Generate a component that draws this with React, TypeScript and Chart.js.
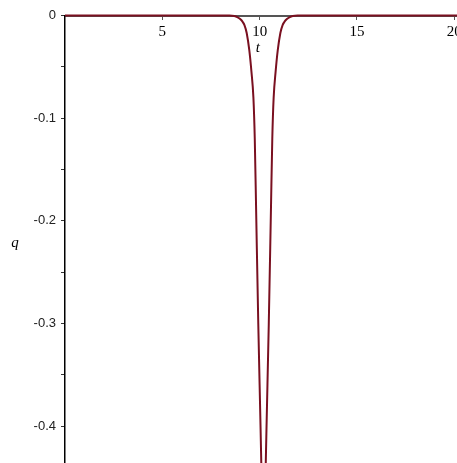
import React, { useEffect, useRef } from 'react';
import { Chart, registerables } from 'chart.js';

Chart.register(...registerables);

// Curve samples (t, q)
const tValues = [
  0, 8.45, 8.7, 8.85, 9.0, 9.12, 9.22, 9.335, 9.47, 9.58, 9.68, 9.75, 9.82, 9.93, 10.05, 10.1, 10.2,
  10.3, 10.35, 10.47, 10.58, 10.65, 10.72, 10.82, 10.93, 11.065, 11.18, 11.28, 11.4, 11.55, 11.7, 11.95, 20.14,
];
const qValues = [
  0, 0, -0.0005, -0.0015, -0.0035, -0.006, -0.0093, -0.017, -0.034, -0.055, -0.08, -0.12, -0.19, -0.3, -0.404, -0.45, -0.55,
  -0.45, -0.404, -0.3, -0.19, -0.12, -0.08, -0.055, -0.034, -0.017, -0.0093, -0.006, -0.0035, -0.0015, -0.0005, 0, 0,
];

const xTickValues = [5, 10, 15, 20];
const xTickLabels = ['5', '10', '15', '20'];
const yTickValues = [0, -0.05, -0.1, -0.15, -0.2, -0.25, -0.3, -0.35, -0.4];
const yTickLabels = ['0', '', '-0.1', '', '-0.2', '', '-0.3', '', '-0.4'];

const X_MIN = 0;
const X_MAX = 20.14;
const Y_MIN = -0.436;
const Y_MAX = 0;

const T_TITLE_AT = 9.91;
const Q_TITLE_AT = -0.222;

const axisTitles = {
  id: 'axisTitles',
  afterDraw(chart: any) {
    const { ctx, scales } = chart;
    const x = scales.x;
    const y = scales.y;
    ctx.save();
    ctx.font = 'italic 15px "Liberation Serif"';
    ctx.fillStyle = '#000';
    ctx.textAlign = 'center';
    ctx.textBaseline = 'middle';
    ctx.fillText('t', x.getPixelForValue(T_TITLE_AT), y.getPixelForValue(-0.032));
    ctx.fillText('q', 15, y.getPixelForValue(Q_TITLE_AT));
    ctx.restore();
  },
};

export default function App() {
  const ref = useRef<HTMLCanvasElement | null>(null);

  useEffect(() => {
    if (!ref.current) return;
    const points = tValues.map((t, i) => ({ x: t, y: qValues[i] }));
    const chart = new Chart(ref.current, {
      type: 'line',
      data: {
        datasets: [
          {
            data: points,
            borderColor: '#7a1020',
            borderWidth: 2,
            pointRadius: 0,
            cubicInterpolationMode: 'monotone',
            fill: false,
            clip: { left: 0, top: 3, right: 0, bottom: 0 } as any,
          },
        ],
      },
      options: {
        animation: false,
        responsive: false,
        maintainAspectRatio: false,
        layout: { padding: { top: 15.5, left: 0, right: 0, bottom: 0 } },
        plugins: { legend: { display: false }, tooltip: { enabled: false } },
        scales: {
          x: {
            type: 'linear',
            position: { y: 0 } as any,
            min: X_MIN,
            max: X_MAX,
            z: 1,
            afterFit: (s: any) => {
              s.height = 0;
              s.paddingLeft = 0;
              s.paddingRight = 0;
              s.paddingTop = 0;
              s.paddingBottom = 0;
            },
            afterBuildTicks: (s: any) => {
              s.ticks = xTickValues.map((v) => ({ value: v }));
            },
            border: { display: true, color: '#555', width: 2 },
            grid: { drawOnChartArea: false, drawTicks: true, tickLength: 3, color: '#555' },
            ticks: {
              autoSkip: false,
              maxRotation: 0,
              padding: 4.5,
              color: '#000',
              font: { family: '"Liberation Serif"', size: 15 },
              callback: (v: any) => {
                const i = xTickValues.indexOf(Number(v));
                return i >= 0 ? xTickLabels[i] : '';
              },
            },
          },
          y: {
            type: 'linear',
            position: 'left',
            min: Y_MIN,
            max: Y_MAX,
            afterFit: (s: any) => {
              s.width = 65;
              s.paddingTop = 0;
              s.paddingBottom = 0;
              s.paddingLeft = 0;
              s.paddingRight = 0;
            },
            afterBuildTicks: (s: any) => {
              s.ticks = yTickValues.map((v) => ({ value: v }));
            },
            border: { display: true, color: '#000', width: 1.5 },
            grid: { drawOnChartArea: false, drawTicks: true, tickLength: 4, color: '#333' },
            ticks: {
              autoSkip: false,
              padding: 5,
              color: '#222',
              font: { family: '"Liberation Sans"', size: 13 },
              callback: (v: any) => {
                const i = yTickValues.findIndex((u) => Math.abs(u - Number(v)) < 1e-9);
                return i >= 0 ? yTickLabels[i] : '';
              },
            },
          },
        },
      },
      plugins: [axisTitles],
    });
    return () => chart.destroy();
  }, []);

  return (
    <div style={{ position: 'fixed', left: 0, top: 0, width: 457, height: 463, background: '#fff' }}>
      <canvas ref={ref} width={457} height={463} style={{ width: 457, height: 463, display: 'block' }} />
    </div>
  );
}
